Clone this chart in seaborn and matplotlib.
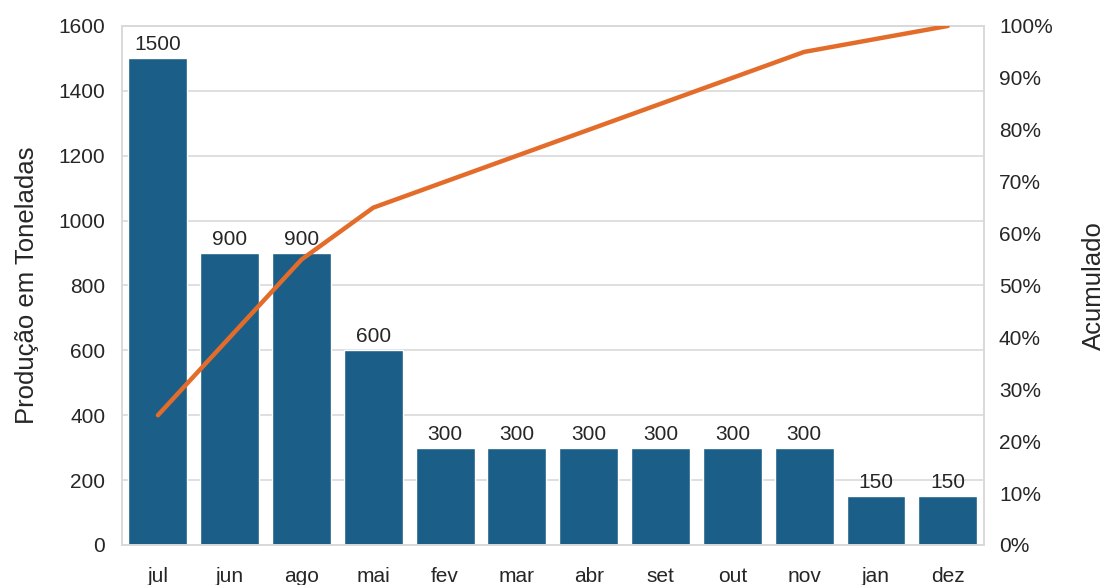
import matplotlib
matplotlib.use("Agg")
import matplotlib.pyplot as plt
import seaborn as sns
import pandas as pd
from matplotlib.ticker import PercentFormatter

# Data
meses = ["jul", "jun", "ago", "mai", "fev", "mar", "abr", "set", "out", "nov", "jan", "dez"]
producao = [1500, 900, 900, 600, 300, 300, 300, 300, 300, 300, 150, 150]
acumulado = [25, 40, 55, 65, 70, 75, 80, 85, 90, 95, 97.5, 100]

bar_color = "#1B5E87"
line_color = "#E46C2A"
grid_color = "#D9D9D9"
text_color = "#262626"

sns.set_style("white")
plt.rcParams["font.family"] = ["Liberation Sans", "DejaVu Sans"]

df = pd.DataFrame({"mes": meses, "producao": producao, "acumulado": acumulado})

fig = plt.figure(figsize=(11.04, 5.85), dpi=100)
ax = fig.add_axes([0.1105, 0.0684, 0.7805, 0.8872])

sns.barplot(data=df, x="mes", y="producao", color=bar_color, width=0.82,
            saturation=1, ax=ax, zorder=2)
ax.bar_label(ax.containers[0], labels=[str(v) for v in producao], padding=3,
             fontsize=15, color=text_color)

ax.set_ylim(0, 1600)
ax.set_yticks(range(0, 1601, 200))
ax.set_xlim(-0.5, len(meses) - 0.5)
ax.yaxis.grid(True, color=grid_color, linewidth=1.2, zorder=0)
ax.set_axisbelow(True)
ax.set_xlabel("")
ax.set_ylabel("Produção em Toneladas", fontsize=18.5, color=text_color, labelpad=14)
ax.tick_params(axis="both", length=0, labelsize=15, colors=text_color)
ax.tick_params(axis="x", pad=16)
ax.tick_params(axis="y", pad=12)

ax2 = ax.twinx()
sns.lineplot(x=list(range(len(meses))), y=acumulado, color=line_color,
             linewidth=3.2, ax=ax2, zorder=3)
ax2.set_ylim(0, 100)
ax2.set_yticks(range(0, 101, 10))
ax2.yaxis.set_major_formatter(PercentFormatter(decimals=0))
ax2.set_ylabel("Acumulado", fontsize=18.5, color=text_color, labelpad=21)
ax2.tick_params(axis="y", length=0, labelsize=15, colors=text_color, pad=11)

for a in (ax, ax2):
    for s in a.spines.values():
        s.set_color(grid_color)
        s.set_linewidth(1.2)

fig.savefig("out.png", dpi=100)
